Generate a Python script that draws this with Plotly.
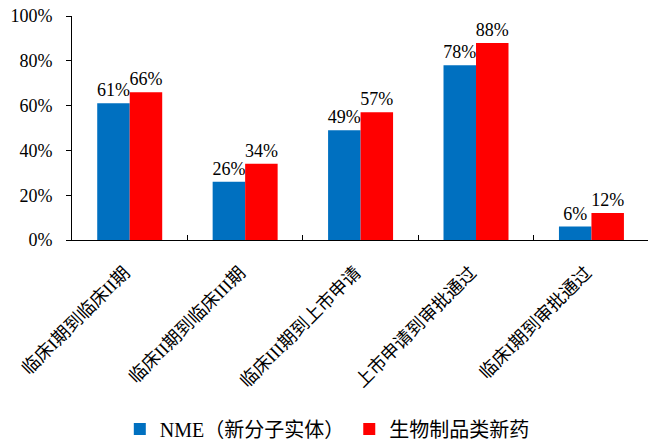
import plotly.graph_objects as go

categories = ["临床I期到临床II期", "临床II期到临床III期", "临床III期到上市申请",
              "上市申请到审批通过", "临床I期到审批通过"]
nme = [0.61, 0.26, 0.49, 0.78, 0.06]
bio = [0.66, 0.34, 0.57, 0.88, 0.12]

font_main = "Times New Roman, Liberation Serif, Noto Sans CJK SC, serif"

fig = go.Figure()
fig.add_trace(go.Bar(
    x=categories, y=nme, name="NME（新分子实体）",
    marker=dict(color="#0070C0", line=dict(width=0)),
    text=[f"{v:.0%}" for v in nme], textposition="outside",
    textfont=dict(size=18, color="#000000"), cliponaxis=False,
))
fig.add_trace(go.Bar(
    x=categories, y=bio, name="生物制品类新药",
    marker=dict(color="#FF0000", line=dict(width=0)),
    text=[f"{v:.0%}" for v in bio], textposition="outside",
    textfont=dict(size=18, color="#000000"), cliponaxis=False,
))

fig.update_layout(
    width=648, height=442,
    margin=dict(l=72, r=0, t=16, b=202, autoexpand=False),
    paper_bgcolor="white", plot_bgcolor="white",
    font=dict(family=font_main, size=18, color="#000000"),
    barmode="group", bargap=0.437, bargroupgap=0,
    showlegend=True,
    legend=dict(orientation="h", x=0.083, xanchor="left", y=-0.844, yanchor="middle",
                font=dict(size=20), itemwidth=30, traceorder="normal"),
    uniformtext=dict(minsize=18, mode="show"),
)
fig.update_yaxes(
    range=[0, 1], dtick=0.2, tickformat=".0%", showgrid=False, zeroline=False,
    showline=True, linecolor="#000000", linewidth=1,
    ticks="outside", ticklen=5, tickcolor="#000000",
    tickfont=dict(size=18), ticklabelstandoff=10, ticklabeloverflow="allow",
    automargin=False,
)
fig.update_xaxes(
    range=[-0.5, 4.49],
    showgrid=False, showline=True, linecolor="#000000", linewidth=1,
    ticks="inside", ticklen=5, tickcolor="#000000", tickson="boundaries",
    tickangle=-45, tickfont=dict(size=18), automargin=False,
    ticklabelshift=-5, ticklabelstandoff=14, ticklabeloverflow="allow",
)

# drop the page's default body margin so the figure fills the window
fig.write_html("out.html", config={"displayModeBar": False},
               post_script="document.body.style.margin='0';")
